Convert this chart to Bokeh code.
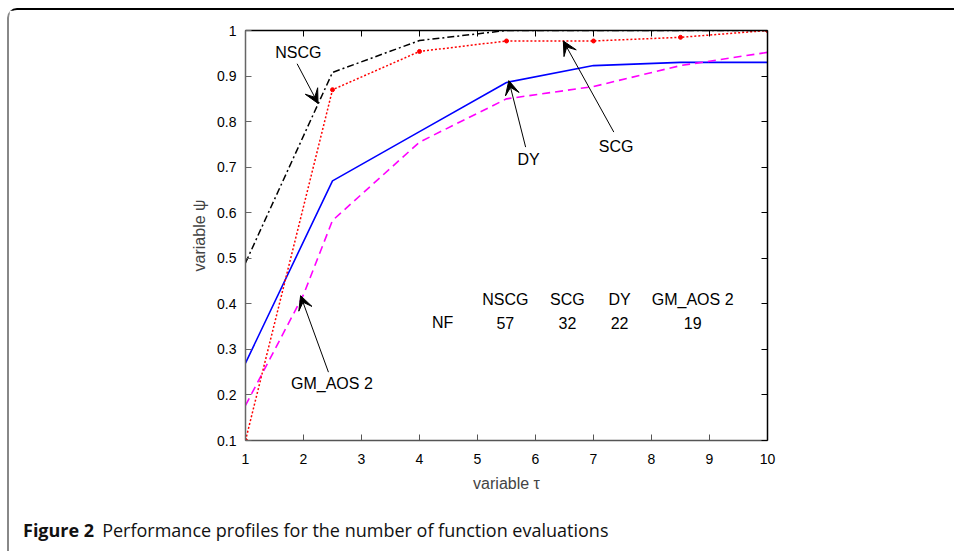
from bokeh.plotting import figure
from bokeh.layouts import column
from bokeh.models import Range1d, LinearAxis, FixedTicker, Arrow, VeeHead, ColumnDataSource, Div
from bokeh.core.properties import value
from bokeh.embed import file_html
from bokeh.resources import INLINE

# ---- data ----
tau = [1, 2.5, 4, 5.5, 7, 8.5, 10]
nscg = [0.49, 0.908, 0.978, 1.0, 1.0, 1.0, 1.0]
scg = [0.10, 0.870, 0.954, 0.977, 0.977, 0.985, 1.0]
dy = [0.27, 0.670, 0.778, 0.886, 0.923, 0.930, 0.930]
gm_tau = [1, 2, 2.5, 4, 5.5, 7, 8.5, 10]
gm_aos2 = [0.177, 0.42, 0.583, 0.755, 0.850, 0.877, 0.923, 0.952]

methods = ["NSCG", "SCG", "DY", "GM_AOS 2"]
nf_values = ["57", "32", "22", "19"]
x_ticks = [1, 2, 3, 4, 5, 6, 7, 8, 9, 10]
y_ticks = [0.1, 0.2, 0.3, 0.4, 0.5, 0.6, 0.7, 0.8, 0.9, 1.0]
y_tick_labels = ["0.1", "0.2", "0.3", "0.4", "0.5", "0.6", "0.7", "0.8", "0.9", "1"]
caption_label = "Figure 2"
caption_text = "Performance profiles for the number of function evaluations"

FONT = "Liberation Sans"

p = figure(width=944, height=495, x_range=Range1d(1, 10), y_range=Range1d(0.1, 1.0),
           output_backend="svg", toolbar_location=None,
           min_border_left=236, min_border_right=186, min_border_top=20, min_border_bottom=65,
           x_axis_label="variable τ", y_axis_label="variable ψ")
p.grid.visible = False
p.outline_line_color = None
p.background_fill_color = "white"
p.border_fill_color = "white"

def style_axis(ax, color, labels=True):
    ax.axis_line_color = color
    ax.axis_line_width = 1.5
    ax.major_tick_line_color = color
    ax.major_tick_in = 6
    ax.major_tick_out = 0
    ax.minor_tick_line_color = None
    ax.major_label_text_font = FONT
    ax.major_label_text_font_size = "14px"
    ax.major_label_text_color = "black" if labels else None
    ax.axis_label_text_font = FONT
    ax.axis_label_text_font_size = "16px"
    ax.axis_label_text_font_style = "normal"

xa = p.xaxis[0]
ya = p.yaxis[0]
xa.ticker = FixedTicker(ticks=x_ticks)
ya.ticker = FixedTicker(ticks=y_ticks)
ya.major_label_overrides = {t: l for t, l in zip(y_ticks, y_tick_labels)}
style_axis(xa, "#555555")
style_axis(ya, "#666666")
xa.major_label_standoff = 13
xa.axis_label_standoff = 8
ya.major_label_standoff = 9
ya.axis_label_standoff = 6

top = LinearAxis(ticker=FixedTicker(ticks=x_ticks))
style_axis(top, "black", labels=False)
right = LinearAxis(ticker=FixedTicker(ticks=y_ticks))
style_axis(right, "black", labels=False)
p.add_layout(top, "above")
p.add_layout(right, "right")

# ---- curves ----
p.line(tau, dy, line_color="#0000ff", line_width=1.6)
p.line(gm_tau, gm_aos2, line_color="#ff00ff", line_width=1.6, line_dash="8 5")
p.line(tau, scg, line_color="#ff0000", line_width=1.5, line_dash="2 2")
p.scatter(tau, scg, size=4, color="#ff0000")
p.line(tau, nscg, line_color="black", line_width=1.5, line_dash="7 3 2 3")

# ---- arrows and labels ----
arrows = [
    (1.89, 0.927, 2.25, 0.840),
    (7.35, 0.777, 6.48, 0.977),
    (5.83, 0.744, 5.54, 0.890),
    (2.43, 0.250, 1.95, 0.418),
]
for xs, ys, xe, ye in arrows:
    p.add_layout(Arrow(end=VeeHead(size=14, fill_color="black", line_color="black", line_width=1),
                       x_start=xs, y_start=ys, x_end=xe, y_end=ye,
                       line_color="black", line_width=1))

lab_src = ColumnDataSource(dict(x=[1.91, 7.39, 5.88, 2.49], y=[0.952, 0.745, 0.716, 0.226],
                                t=["NSCG", "SCG", "DY", "GM_AOS 2"]))
p.text(x="x", y="y", text="t", source=lab_src, text_font=value(FONT), text_font_size="16px",
       text_align="center", text_baseline="middle", text_color="black")

# ---- NF table ----
col_x = [5.48, 6.55, 7.45, 8.71]
p.text(x=col_x, y=[0.409] * 4, text=methods, text_font=value(FONT), text_font_size="16px",
       text_align="center", text_baseline="middle", text_color="black")
p.text(x=[4.40] + col_x, y=[0.359] * 5, text=["NF"] + nf_values, text_font=value(FONT),
       text_font_size="16px", text_align="center", text_baseline="middle", text_color="black")

# ---- caption ----
cap = Div(width=944, height=46,
          text=(f'<span style="font-weight:bold">{caption_label}</span>'
                f'<span style="margin-left:8px">{caption_text}</span>'),
          styles={"font-family": "'Open Sans'", "font-size": "18px", "color": "#111111",
                  "padding-left": "9px", "padding-top": "0px", "line-height": "41px",
                  "white-space": "nowrap", "box-sizing": "border-box"})

layout = column(p, cap, spacing=0)
layout.styles = {"border-top": "2px solid black", "border-left": "2px solid #888888",
                 "border-top-left-radius": "10px", "margin-top": "8px", "margin-left": "7px"}

open("out.html", "w").write(file_html(layout, INLINE))
